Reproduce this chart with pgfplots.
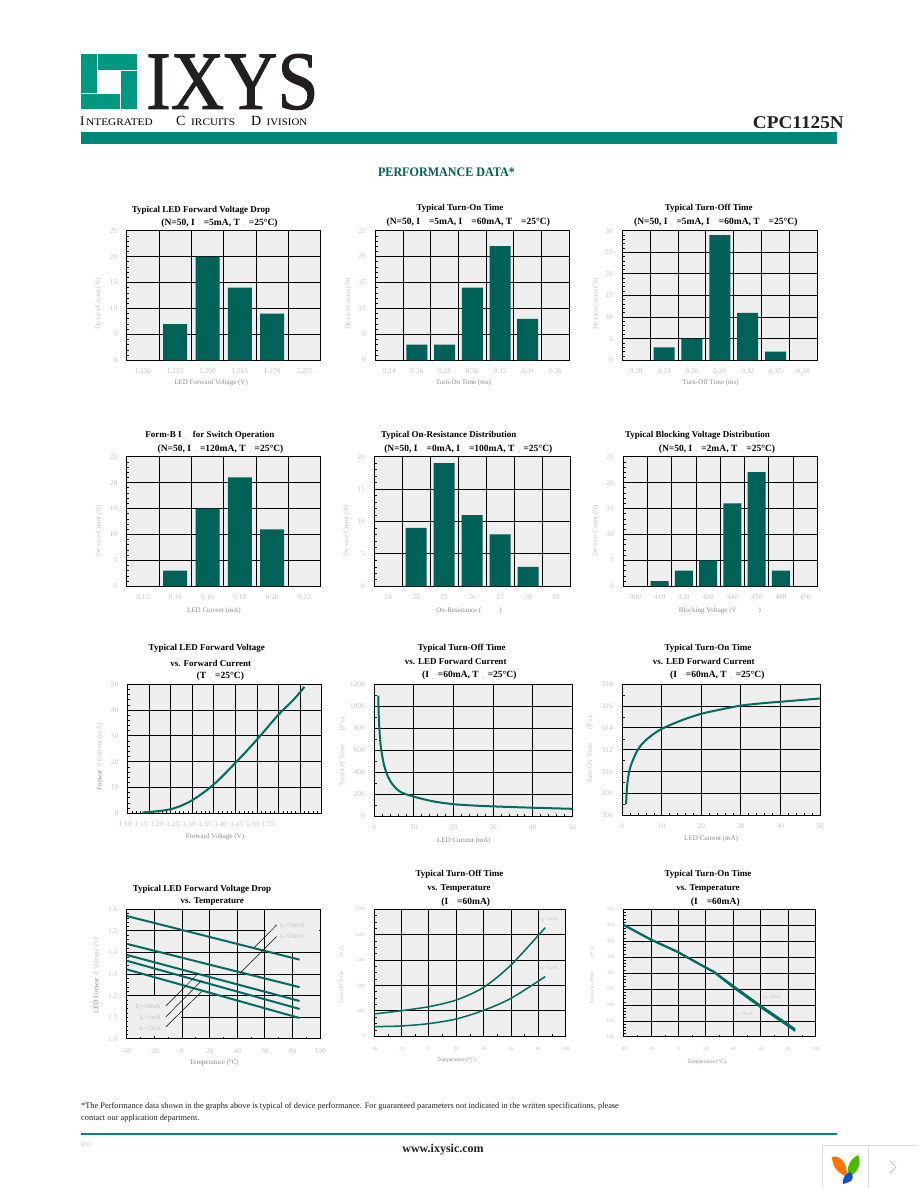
\documentclass[border=0pt]{standalone}
\usepackage{fontspec}
\setmainfont{Liberation Serif}
\newfontfamily\logofont[FakeBold=1.2]{Liberation Serif}
\usepackage{graphicx}
\usepackage{pgfplots}
\pgfplotsset{compat=1.18}
\definecolor{plotbg}{HTML}{EEEEEE}
\definecolor{barc}{HTML}{006158}
\definecolor{curve}{HTML}{006B60}
\definecolor{rule}{HTML}{00877A}
\definecolor{logo}{HTML}{009880}
\definecolor{ink}{HTML}{231F20}
\definecolor{lbl}{HTML}{C4C4C4}
\definecolor{lbd}{HTML}{8C8C8C}
\newcommand\fs[1]{\fontsize{#1}{#1}\selectfont}
\newcommand\Ti[3]{\node[font=\fs{9}\bfseries,inner sep=0pt,text=black] at ({#1pt},{(1188-#2)*1pt}) {#3};}
\newcommand\Tl[3]{\node[font=\fs{9.5}\bfseries,inner sep=0pt,text=black] at ({#1pt},{(1188-#2)*1pt}) {#3};}
\newcommand\Tx[4][]{\node[inner sep=0pt,#1] at ({#2pt},{(1188-#3)*1pt}) {#4};}
\newcommand\gp[1]{\makebox[9pt][c]{\raisebox{-1.5pt}{\textcolor{black!25}{\fs{3.5}\mdseries #1}}}}
\pgfplotsset{
 pg/.style={scale only axis, clip=false,
  axis background/.style={fill=plotbg},
  axis line style={black,line width=1pt},
  grid=major, grid style={black,line width=1pt},
  tick align=inside, xtick pos=bottom, ytick pos=left,
  major tick length=0pt, minor tick length=2.2pt,
  minor tick style={black,line width=.7pt},
  scaled ticks=false,
  /pgf/number format/assume math mode=true,
  /pgf/number format/1000 sep={},
  tick label style={color=lbl,font=\fs{7.3}},
  xticklabel style={yshift=-4.5pt},
  yticklabel style={xshift=-6pt},
  xticklabels={},
  extra x tick style={grid=none,major tick length=0pt},
  label style={font=\fs{7}},
  xlabel style={color=lbd},
  ylabel style={color=lbl},
 },
 xl/.style n args={3}{xlabel={#3},xlabel style={at={(axis description cs:#1,#2)},anchor=center}},
 yl/.style n args={3}{ylabel={#3},ylabel style={at={(axis description cs:#1,#2)},anchor=center}},
 bars/.style={pg,ymin=0,minor y tick num=4,minor x tick num=0},
 bb/.style={fill=barc,draw=none,ybar,bar shift=0pt},
 cv/.style={color=curve,line width=2pt,smooth,no marks},
 ld/.style={color=black,line width=.5pt,no marks},
 small ticks/.style={tick label style={color=lbl,font=\fs{5}},xticklabel style={yshift=-2.5pt}},
}
\begin{document}
\begin{tikzpicture}[x=1pt,y=1pt]
\useasboundingbox (0,0) rectangle (918pt,1188pt);
\fill[white] (0,0) rectangle (918pt,1188pt);
% ---- header ----
\fill[logo] (81,1134) rectangle (96.5,1095);
\fill[logo] (98,1134) rectangle (137,1118);
\fill[logo] (121,1117) rectangle (137,1079);
\fill[logo] (81,1094) rectangle (120,1079);
\Tx[anchor=base west,text=ink,font=\logofont\fs{83}]{146}{109}{\scalebox{.89}[1]{IXYS}}
\Tx[anchor=west,font=\fs{13}]{80}{121}{I}
\Tx[anchor=west,font=\fs{10}]{86}{122}{\scalebox{1.13}[1]{NTEGRATED}}
\Tx[anchor=west,font=\fs{14}]{176}{121}{C}
\Tx[anchor=west,font=\fs{10}]{191}{122}{\scalebox{1.13}[1]{IRCUITS}}
\Tx[anchor=west,font=\fs{14}]{251}{121}{D}
\Tx[anchor=west,font=\fs{10}]{266.5}{122}{\scalebox{1.09}[1]{IVISION}}
\Tx[anchor=east,font=\fs{18}\bfseries,text=ink]{844}{122.5}{\scalebox{1.07}[1]{CPC1125N}}
\fill[rule] (81,1056) rectangle (837,1044);
\Tx[font=\fs{13}\bfseries,text=barc]{446.5}{172.5}{\scalebox{.93}[1]{PERFORMANCE DATA*}}
% ---- titles ----
\Ti{201}{210}{Typical LED Forward Voltage Drop}
\Tl{219.5}{223}{(N=50, I\gp{F}=5mA, T\gp{A}=25°C)}
\Ti{460}{208.3}{Typical Turn-On Time}
\Tl{468.3}{222.7}{(N=50, I\gp{F}=5mA, I\gp{L}=60mA, T\gp{A}=25°C)}
\Ti{708.7}{208.3}{Typical Turn-Off Time}
\Tl{715.8}{222.7}{(N=50, I\gp{F}=5mA, I\gp{L}=60mA, T\gp{A}=25°C)}
\Ti{209.8}{435.7}{Form-B I\gp{F} for Switch Operation}
\Tl{220.5}{449}{(N=50, I\gp{L}=120mA, T\gp{A}=25°C)}
\Ti{448.8}{435.7}{Typical On-Resistance Distribution}
\Tl{468.3}{449}{(N=50, I\gp{F}=0mA, I\gp{L}=100mA, T\gp{A}=25°C)}
\Ti{697.5}{435.7}{Typical Blocking Voltage Distribution}
\Tl{717}{449}{(N=50, I\gp{F}=2mA, T\gp{A}=25°C)}
\Ti{206.8}{648.7}{Typical LED Forward Voltage}
\Ti{210.7}{663}{vs. Forward Current}
\Tl{220.3}{676}{(T\gp{A}=25°C)}
\Ti{461.7}{648.7}{Typical Turn-Off Time}
\Ti{455.7}{661.7}{vs. LED Forward Current}
\Tl{469.3}{675.7}{(I\gp{L}=60mA, T\gp{A}=25°C)}
\Ti{708}{648.7}{Typical Turn-On Time}
\Ti{703.7}{661.7}{vs. LED Forward Current}
\Tl{717.3}{675.7}{(I\gp{L}=60mA, T\gp{A}=25°C)}
\Ti{202}{889}{Typical LED Forward Voltage Drop}
\Ti{212.3}{902}{vs. Temperature}
\Ti{459.5}{874.7}{Typical Turn-Off Time}
\Ti{459}{889}{vs. Temperature}
\Tl{465.7}{902}{(I\gp{L}=60mA)}
\Ti{708}{874.7}{Typical Turn-On Time}
\Ti{708}{889}{vs. Temperature}
\Tl{715.3}{902}{(I\gp{L}=60mA)}
% ---- chart 1 ----
\begin{axis}[bars,at={(126.7pt,827.7pt)},anchor=south west,width=194pt,height=129.6pt,
 xmin=-0.5,xmax=5.5,ymax=25,ytick={0,5,10,15,20,25},xtick={0.5,1.5,2.5,3.5,4.5},
 extra x ticks={0,1,2,3,4,5},extra x tick labels={1.250,1.255,1.260,1.265,1.270,1.275},
 xl={.435}{-.175}{LED Forward Voltage (V)},yl={-.146}{.434}{De\hspace{1pt}vice Count (N)}]
\addplot[bb,bar width=24pt] coordinates {(0,0)(1,7)(2,20)(3,14)(4,9)(5,0)};
\end{axis}
% ---- chart 2 ----
\begin{axis}[bars,at={(375.3pt,827.7pt)},anchor=south west,width=194pt,height=129.6pt,
 xmin=-0.5,xmax=6.5,ymax=25,ytick={0,5,10,15,20,25},xtick={0.5,1.5,2.5,3.5,4.5,5.5},
 extra x ticks={0,1,2,3,4,5,6},extra x tick labels={0.24,0.26,0.28,0.30,0.32,0.34,0.36},
 xl={.454}{-.175}{Turn-On Time (ms)},yl={-.139}{.434}{De\hspace{1pt}vice Count (N)}]
\addplot[bb,bar width=21pt] coordinates {(0,0)(1,3)(2,3)(3,14)(4,22)(5,8)(6,0)};
\end{axis}
% ---- chart 3 ----
\begin{axis}[bars,at={(622.3pt,827.7pt)},anchor=south west,width=195pt,height=129.6pt,
 xmin=-0.5,xmax=6.5,ymax=30,ytick={0,5,10,15,20,25,30},xtick={0.5,1.5,2.5,3.5,4.5,5.5},
 extra x ticks={0,1,2,3,4,5,6},extra x tick labels={0.20,0.23,0.26,0.29,0.32,0.35,0.38},
 xl={.453}{-.175}{Turn-Off Time (ms)},yl={-.135}{.434}{De\hspace{1pt}vice Count (N)}]
\addplot[bb,bar width=21pt] coordinates {(0,0)(1,3)(2,5)(3,29)(4,11)(5,2)(6,0)};
\end{axis}
% ---- chart 4 ----
\begin{axis}[bars,at={(126.7pt,601.7pt)},anchor=south west,width=194pt,height=129.6pt,
 xmin=-0.5,xmax=5.5,ymax=25,ytick={0,5,10,15,20,25},xtick={0.5,1.5,2.5,3.5,4.5},
 extra x ticks={0,1,2,3,4,5},extra x tick labels={0.12,0.14,0.16,0.18,0.20,0.22},
 xl={.45}{-.188}{LED Current (mA)},yl={-.143}{.43}{De\hspace{1pt}vice Count (N)}]
\addplot[bb,bar width=24pt] coordinates {(0,0)(1,3)(2,15)(3,21)(4,11)(5,0)};
\end{axis}
% ---- chart 5 ----
\begin{axis}[bars,at={(374.3pt,601.7pt)},anchor=south west,width=195.7pt,height=129.6pt,
 xmin=-0.5,xmax=6.5,ymax=20,ytick={0,5,10,15,20},xtick={0.5,1.5,2.5,3.5,4.5,5.5},
 extra x ticks={0,1,2,3,4,5,6},extra x tick labels={24,25,25,26,27,28,28},
 xl={.484}{-.188}{On-Resistance (\hspace{18pt})},yl={-.141}{.43}{De\hspace{1pt}vice Count (N)}]
\addplot[bb,bar width=21pt] coordinates {(0,0)(1,9)(2,19)(3,11)(4,8)(5,3)(6,0)};
\end{axis}
% ---- chart 6 ----
\begin{axis}[bars,at={(623.3pt,601.7pt)},anchor=south west,width=194pt,height=129.6pt,
 xmin=-0.5,xmax=7.5,ymax=25,ytick={0,5,10,15,20,25},xtick={0.5,1.5,2.5,3.5,4.5,5.5,6.5},
 extra x ticks={0,1,2,3,4,5,6,7},extra x tick labels={400,410,420,430,440,450,460,470},
 xl={.498}{-.188}{Blocking Voltage (V\hspace{22pt})},yl={-.142}{.43}{De\hspace{1pt}vice Count (N)}]
\addplot[bb,bar width=18pt] coordinates {(0,0)(1,1)(2,3)(3,5)(4,16)(5,22)(6,3)(7,0)};
\end{axis}
% ---- chart 7 ----
\begin{axis}[pg,at={(127.7pt,374.7pt)},anchor=south west,width=194pt,height=129pt,
 xmin=1.10,xmax=1.55,ymin=0,ymax=50,ytick={0,10,20,30,40,50},minor y tick num=4,
 xtick={1.10,1.15,1.20,1.25,1.30,1.35,1.40,1.45,1.50,1.55},minor x tick num=4,
 extra x ticks={1.10,1.137,1.174,1.211,1.248,1.285,1.322,1.359,1.396,1.432},
 extra x tick labels={1.10,1.15,1.20,1.25,1.30,1.35,1.40,1.45,1.50,1.55},
 xticklabel style={xshift=-2.7pt},
 xl={.45}{-.184}{Forward Voltage (V)},yl={-.143}{.439}{\textcolor{lbd}{Forwar}\hspace{3pt}d Current (mA)}]
\addplot[cv] coordinates {(1.134,0.26)(1.199,1.55)(1.248,4.9)(1.299,11.1)(1.349,19.4)(1.399,28.4)(1.449,38.1)(1.484,43.9)(1.510,49.0)};
\end{axis}
% ---- chart 8 ----
\begin{axis}[pg,at={(374.3pt,371.7pt)},anchor=south west,width=198pt,height=132pt,
 xmin=0,xmax=50,ymin=0,ymax=1200,ytick={0,200,400,600,800,1000,1200},minor y tick num=1,
 xtick={0,10,20,30,40,50},minor x tick num=4,
 extra x ticks={0,10,20,30,40,50},extra x tick labels={0,10,20,30,40,50},
 xl={.453}{-.185}{LED Current (mA)},yl={-.16}{.489}{Turn-Off Time\hspace{14pt}(P\hspace{2pt}s)}]
\addplot[cv] coordinates {(1,1097)(1.18,860)(1.6,648)(2.27,497)(3.1,391)(4.4,300)(6.5,224)(10,178)(15,135)(20,110)(25,98)(30,90)(40,78)(50,68)};
\end{axis}
% ---- chart 9 ----
\begin{axis}[pg,at={(622.3pt,372.7pt)},anchor=south west,width=197.7pt,height=131pt,
 xmin=0,xmax=50,ymin=306,ymax=318,ytick={306,308,310,312,314,316,318},minor y tick num=1,
 xtick={0,10,20,30,40,50},minor x tick num=4,
 extra x ticks={0,10,20,30,40,50},extra x tick labels={0,10,20,30,40,50},
 xl={.449}{-.179}{LED Current (mA)},yl={-.163}{.498}{Turn-On Time\hspace{14pt}(P\hspace{2pt}s)}]
\addplot[cv] coordinates {(0.95,307)(1.1,308.1)(1.3,309)(1.75,310)(2.4,310.8)(3.6,311.8)(4.9,312.5)(7,313.2)(9.9,313.9)(15,314.7)(20,315.3)(25,315.7)(30,316.05)(35,316.25)(40,316.4)(45,316.55)(50,316.7)};
\end{axis}
% ---- chart 10 ----
\begin{axis}[pg,at={(126.7pt,149pt)},anchor=south west,width=193.6pt,height=129.7pt,
 xmin=-40,xmax=100,ymin=1,ymax=1.6,ytick={1,1.1,1.2,1.3,1.4,1.5,1.6},minor y tick num=4,
 yticklabel style={/pgf/number format/.cd,fixed,fixed zerofill,precision=1},
 xtick={-40,-20,0,20,40,60,80,100},minor x tick num=1,
 extra x ticks={-40,-20,0,20,40,60,80,100},extra x tick labels={-40,-20,0,20,40,60,80,100},
 xticklabel style={yshift=-1.5pt},
 xl={.452}{-.183}{Temperature (°C)},yl={-.155}{.491}{\textcolor{lbd}{LED Forwar}\hspace{3pt}d Voltage (V)}]
\fill[plotbg] (axis cs:60.6,1.402) rectangle (axis cs:99.4,1.597);
\fill[plotbg] (axis cs:-39.4,1.012) rectangle (axis cs:-0.6,1.197);
\addplot[cv,sharp plot] coordinates {(-40,1.569)(85,1.367)};
\addplot[cv,sharp plot] coordinates {(-40,1.44)(85,1.24)};
\addplot[cv,sharp plot] coordinates {(-40,1.389)(85,1.176)};
\addplot[cv,sharp plot] coordinates {(-40,1.362)(85,1.139)};
\addplot[cv,sharp plot] coordinates {(-40,1.322)(85,1.097)};
\addplot[ld] coordinates {(68.4,1.5275)(51.8,1.42)};
\addplot[ld] coordinates {(68.4,1.4735)(41.9,1.304)};
\addplot[ld] coordinates {(-11.6,1.154)(11.8,1.304)};
\addplot[ld] coordinates {(-11.6,1.103)(14.2,1.27)};
\addplot[ld] coordinates {(-11.6,1.057)(14.2,1.219)};
\node[text=lbl,font=\fs{6.5},inner sep=0pt] at (axis cs:79.8,1.524) {I\textsubscript{F}=50mA};
\node[text=lbl,font=\fs{6.5},inner sep=0pt] at (axis cs:79.8,1.473) {I\textsubscript{F}=20mA};
\node[text=lbl,font=\fs{6.5},inner sep=0pt] at (axis cs:-24.6,1.15) {I\textsubscript{F}=10mA};
\node[text=lbl,font=\fs{6.5},inner sep=0pt] at (axis cs:-23,1.099) {I\textsubscript{F}=5mA};
\node[text=lbl,font=\fs{6.5},inner sep=0pt] at (axis cs:-23,1.046) {I\textsubscript{F}=2mA};
\end{axis}
% ---- chart 11 ----
\begin{axis}[pg,small ticks,at={(374.3pt,151.7pt)},anchor=south west,width=191.4pt,height=127pt,
 xmin=-40,xmax=100,ymin=0,ymax=2000,ytick={0,400,800,1200,1600,2000},minor y tick num=3,
 xtick={-40,-20,0,20,40,60,80,100},minor x tick num=1,
 extra x ticks={-40,-20,0,20,40,60,80,100},extra x tick labels={-40,-20,0,20,40,60,80,100},
 label style={font=\fs{5.5}},
 xl={.43}{-.189}{Temperature (°C)},yl={-.17}{.483}{Turn-Off Time\hspace{14pt}(P\hspace{2pt}s)}]
\addplot[cv,line width=1.5pt] coordinates {(-40,352)(-20,404)(0,467)(20,572)(40,772)(60,1123)(85,1711)};
\addplot[cv,line width=1.5pt] coordinates {(-40,152)(-20,163)(0,200)(20,273)(40,409)(60,598)(85,940)};
\node[text=lbl,font=\fs{5},inner sep=0pt] at (axis cs:87.6,1832) {I\textsubscript{F}=2mA};
\node[text=lbl,font=\fs{5},inner sep=0pt] at (axis cs:87.6,1071) {I\textsubscript{F}=5mA};
\end{axis}
% ---- chart 12 ----
\begin{axis}[pg,small ticks,at={(623.7pt,151pt)},anchor=south west,width=192pt,height=127.7pt,
 xmin=-40,xmax=100,ymin=100,ymax=500,ytick={100,150,200,250,300,350,400,450,500},minor y tick num=4,
 xtick={-40,-20,0,20,40,60,80,100},minor x tick num=1,
 extra x ticks={-40,-20,0,20,40,60,80,100},extra x tick labels={-40,-20,0,20,40,60,80,100},
 label style={font=\fs{5.5}},
 xl={.432}{-.195}{Temperature (°C)},yl={-.164}{.485}{Turn-On Time\hspace{14pt}(P\hspace{2pt}s)}]
\addplot[cv,sharp plot] coordinates {(-40,451)(-20.6,406)(-0.9,367)(19.6,318)(25.4,305)(39.2,258)(59.4,195)(79.6,135.5)(85,119)};
\addplot[cv,sharp plot] coordinates {(-40,451)(-20.6,406)(-0.9,367)(19.6,318)(25.4,305)(39.2,262)(59.4,199)(79.6,140)(85,124)};
\node[text=lbl,font=\fs{5},inner sep=0pt] at (axis cs:68.2,224) {I\textsubscript{F}=5mA};
\node[text=lbl,font=\fs{5},inner sep=0pt] at (axis cs:47.7,169) {I\textsubscript{F}=2mA};
\end{axis}
% ---- footer ----
\Tx[anchor=west,font=\fs{8.35},text=ink]{81}{1106.7}{*The Performance data shown in the graphs above is typical of device performance. For guaranteed parameters not indicated in the written specifications, please}
\Tx[anchor=west,font=\fs{8.35},text=ink]{81}{1118.7}{contact our application department.}
\fill[rule] (81,54.8) rectangle (837,53);
\Tx[anchor=west,font=\fs{6},text=lbl]{81}{1144.7}{R03}
\Tx[font=\fs{12}\bfseries,text=ink]{443}{1150}{www.ixysic.com}
\fill[ink] (831.5,1188-1145) rectangle (833,1188-1147);
% ---- corner widget ----
\fill[white] (822,0) rectangle (918,42);
\draw[black!12,line width=1pt] (822,0) -- (822,42) -- (918,42);
\draw[black!12,line width=.7pt] (868,0) -- (868,42);
\draw[black!30,line width=.5pt] (890,27) -- (896,21) -- (890,15);
\fill[orange!90!red] (832,31) .. controls (840,34) and (848,24) .. (847,11) .. controls (840,14) and (832,20) .. (832,31);
\fill[green!60!black!70!yellow] (858,33) .. controls (862,24) and (858,15) .. (848,11) .. controls (846,20) and (850,29) .. (858,33);
\fill[blue!60!cyan!80!black] (850,16) .. controls (856,10) and (852,6) .. (843,4) .. controls (842,9) and (845,14) .. (850,16);
\end{tikzpicture}
\end{document}
